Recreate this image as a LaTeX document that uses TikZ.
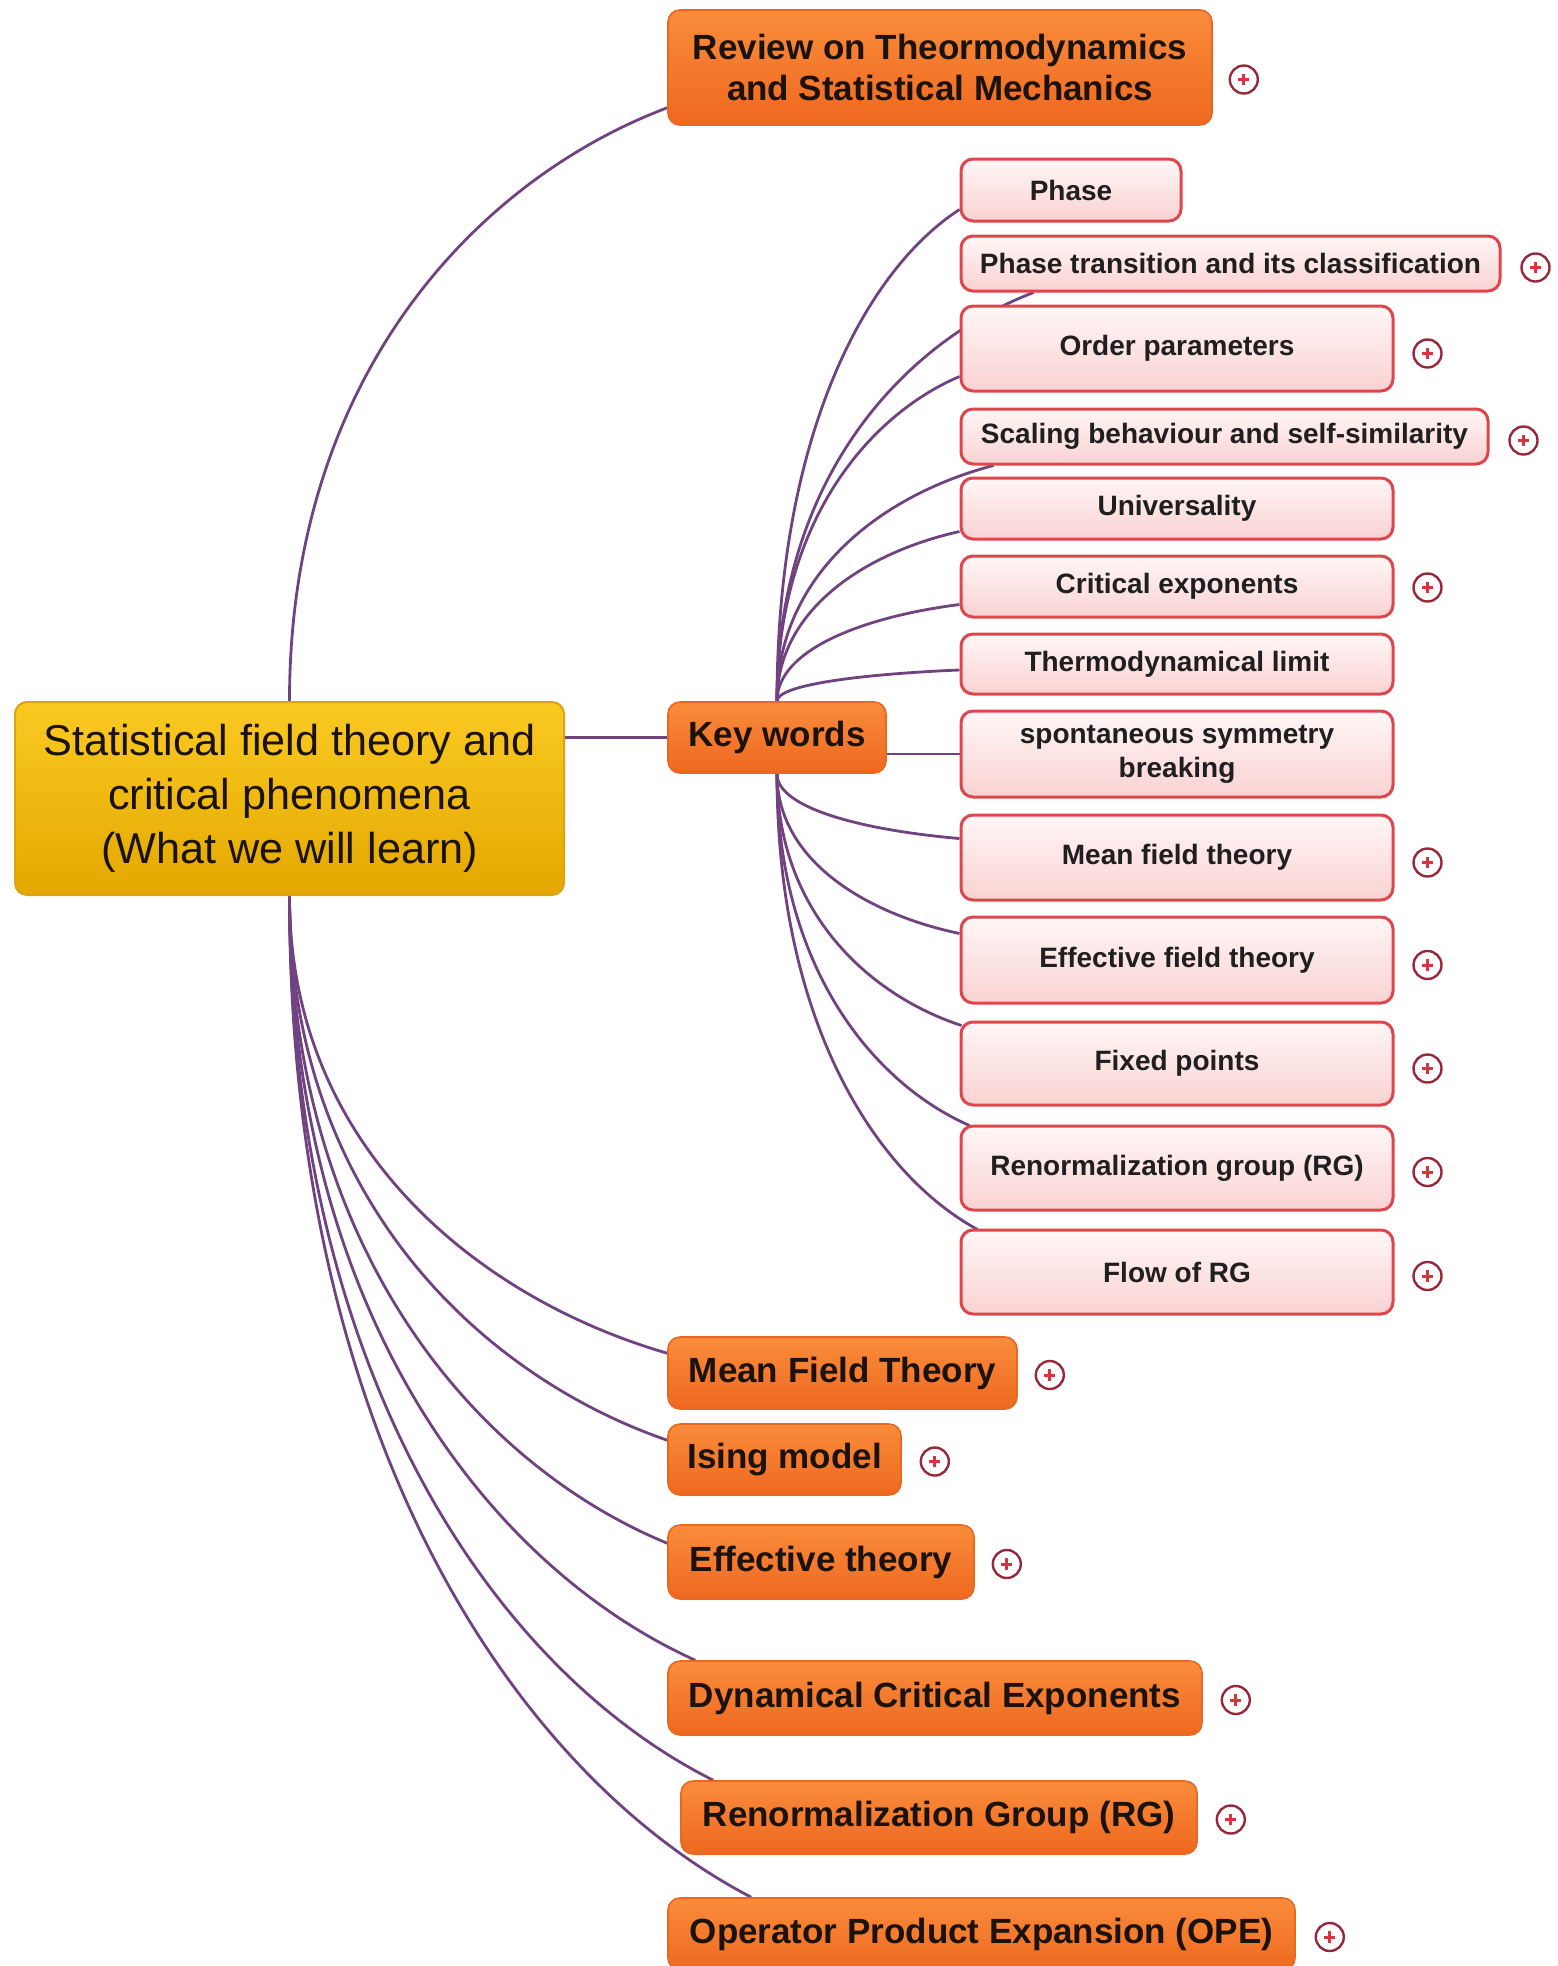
\documentclass[tikz,border=0pt]{standalone}
\usepackage{fontspec}
\setmainfont{Liberation Sans}
\usetikzlibrary{calc,backgrounds}

\definecolor{linkpurple}{RGB}{112,66,128}
\definecolor{orangetop}{RGB}{250,140,60}
\definecolor{orangebot}{RGB}{238,104,30}
\definecolor{orangeline}{RGB}{232,104,34}
\definecolor{goldtop}{RGB}{250,202,34}
\definecolor{goldbot}{RGB}{228,168,0}
\definecolor{goldline}{RGB}{218,164,18}
\definecolor{pinktop}{RGB}{255,246,246}
\definecolor{pinkbot}{RGB}{250,210,210}
\definecolor{pinkline}{RGB}{222,70,76}
\definecolor{plusring}{RGB}{150,40,58}
\definecolor{pluscross}{RGB}{220,50,62}
\definecolor{inkdark}{RGB}{26,18,12}

\tikzset{
  rootbox/.style={draw=goldline, line width=1pt, rounded corners=6pt,
    top color=goldtop, bottom color=goldbot, inner sep=0pt, align=center,
    text=inkdark, font=\fontsize{21.6pt}{27pt}\selectfont},
  topicbox/.style={draw=orangeline, line width=0.8pt, rounded corners=6pt,
    top color=orangetop, bottom color=orangebot, inner sep=0pt, align=center,
    text=inkdark, font=\bfseries\fontsize{17.5pt}{20.6pt}\selectfont},
  leafbox/.style={draw=pinkline, line width=1.5pt, rounded corners=6pt,
    top color=pinktop, bottom color=pinkbot, inner sep=0pt, align=center,
    text=black!88, font=\bfseries\fontsize{14pt}{17pt}\selectfont},
  plusicon/.style={circle, draw=plusring, line width=1.2pt, fill=white,
    minimum size=14pt, inner sep=0pt,
    path picture={
      \draw[pluscross, line width=1.5pt]
        ($(path picture bounding box.center)+(-2.8pt,0pt)$) -- ++(5.6pt,0pt)
        ($(path picture bounding box.center)+(0pt,-2.8pt)$) -- ++(0pt,5.6pt);}},
  link/.style={draw=linkpurple, line width=1.4pt},
  % curved branch: leaves its parent along the vertical, reaches the child at a shallow slope
  fanlink/.style={to path={.. controls
      ($(\tikztostart)!#1!(\tikztostart|-\tikztotarget)$) and
      ($(\tikztotarget)!0.5!(\tikztostart|-\tikztotarget)
        + 0.12*(\tikztostart) - 0.12*(\tikztostart|-\tikztotarget)$)
      .. (\tikztotarget)}},
  fanlink/.default=0.55
}

\begin{document}
\begin{tikzpicture}[x=0.5pt,y=-0.5pt]
\useasboundingbox (0,0) rectangle (1558,1966);

% central topic
\node[rootbox, minimum width=274.5pt, minimum height=96.5pt] (root) at (289.5,798.5)
  {Statistical field theory and\\critical phenomena\\(What we will learn)};

% main topics
\node[topicbox, minimum width=272pt, minimum height=57.5pt] (review) at (940,67.5)
  {Review on Theormodynamics\\and Statistical Mechanics};
\node[topicbox, minimum width=109pt, minimum height=35.5pt] (kw) at (777,737.5) {Key words};
\node[topicbox, minimum width=174.5pt, minimum height=36pt] (mft) at (842.5,1373) {Mean Field Theory};
\node[topicbox, minimum width=116.5pt, minimum height=35.5pt] (ising) at (784.5,1459.5) {Ising model};
\node[topicbox, minimum width=153pt, minimum height=37pt] (efft) at (821,1562) {Effective theory};
\node[topicbox, minimum width=267pt, minimum height=37pt] (dyn) at (935,1698) {Dynamical Critical Exponents};
\node[topicbox, minimum width=258pt, minimum height=36.5pt] (rg) at (939,1817.5) {Renormalization Group (RG)};
\node[topicbox, minimum width=313.5pt, minimum height=36pt] (ope) at (981.5,1934) {Operator Product Expansion (OPE)};

% key words
\node[leafbox, minimum width=110pt, minimum height=31pt] (phase) at (1071,190) {Phase};
\node[leafbox, minimum width=269.5pt, minimum height=27.5pt] (trans) at (1230.5,263.5) {Phase transition and its classification};
\node[leafbox, minimum width=216pt, minimum height=42.5pt] (order) at (1177,348.5) {Order parameters};
\node[leafbox, minimum width=263.5pt, minimum height=27.5pt] (scaling) at (1224.5,436.5) {Scaling behaviour and self-similarity};
\node[leafbox, minimum width=216pt, minimum height=30.5pt] (univ) at (1177,508.5) {Universality};
\node[leafbox, minimum width=216pt, minimum height=30.5pt] (crit) at (1177,586.5) {Critical exponents};
\node[leafbox, minimum width=216pt, minimum height=30pt] (thermo) at (1177,664) {Thermodynamical limit};
\node[leafbox, minimum width=216pt, minimum height=43pt] (spont) at (1177,754) {spontaneous symmetry\\breaking};
\node[leafbox, minimum width=216pt, minimum height=42.5pt] (mftk) at (1177,857.5) {Mean field theory};
\node[leafbox, minimum width=216pt, minimum height=43pt] (eft) at (1177,960) {Effective field theory};
\node[leafbox, minimum width=216pt, minimum height=41.5pt] (fixed) at (1177,1063.5) {Fixed points};
\node[leafbox, minimum width=216pt, minimum height=42pt] (rgk) at (1177,1168) {Renormalization group (RG)};
\node[leafbox, minimum width=216pt, minimum height=42pt] (flow) at (1177,1272) {Flow of RG};

% collapsed-branch markers
\node[plusicon] (p-review) at ($(review.east)+(31,12)$) {};
\node[plusicon] (p-trans) at ($(trans.east)+(34,4)$) {};
\node[plusicon] (p-order) at ($(order.east)+(33,5)$) {};
\node[plusicon] (p-scaling) at ($(scaling.east)+(34,4)$) {};
\node[plusicon] (p-crit) at ($(crit.east)+(33,1)$) {};
\node[plusicon] (p-mftk) at ($(mftk.east)+(33,5)$) {};
\node[plusicon] (p-eft) at ($(eft.east)+(33,5)$) {};
\node[plusicon] (p-fixed) at ($(fixed.east)+(33,5)$) {};
\node[plusicon] (p-rgk) at ($(rgk.east)+(33,4)$) {};
\node[plusicon] (p-flow) at ($(flow.east)+(33,4)$) {};
\node[plusicon] (p-mft) at ($(mft.east)+(32,2)$) {};
\node[plusicon] (p-ising) at ($(ising.east)+(33,2)$) {};
\node[plusicon] (p-efft) at ($(efft.east)+(32,2)$) {};
\node[plusicon] (p-dyn) at ($(dyn.east)+(33,2)$) {};
\node[plusicon] (p-rg) at ($(rg.east)+(33,2)$) {};
\node[plusicon] (p-ope) at ($(ope.east)+(34,3)$) {};

% attachment points of the connectors
\coordinate (e-review) at ($(review.south west)+(0,-18)$);
\coordinate (e-mft) at ($(mft.north west)+(0,17)$);
\coordinate (e-ising) at ($(ising.north west)+(0,17)$);
\coordinate (e-efft) at ($(efft.north west)+(0,19)$);
\coordinate (e-dyn) at ($(dyn.north west)+(28,0)$);
\coordinate (e-rg) at ($(rg.north west)+(33,0)$);
\coordinate (e-ope) at ($(ope.north west)+(84,0)$);

\coordinate (e-phase) at ($(phase.south west)+(0,-13)$);
\coordinate (e-trans) at ($(trans.south west)+(74,0)$);
\coordinate (e-order) at ($(order.south west)+(0,-16)$);
\coordinate (e-scaling) at ($(scaling.south west)+(34,0)$);
\coordinate (e-univ) at ($(univ.south west)+(0,-9)$);
\coordinate (e-crit) at ($(crit.south west)+(0,-14)$);
\coordinate (e-thermo) at ($(thermo.west)+(0,6)$);
\coordinate (e-mftk) at ($(mftk.north west)+(0,25)$);
\coordinate (e-eft) at ($(eft.north west)+(0,18)$);
\coordinate (e-fixed) at ($(fixed.north west)+(2,5)$);
\coordinate (e-rgk) at ($(rgk.north west)+(10,1)$);
\coordinate (e-flow) at ($(flow.north west)+(18,1)$);

\begin{scope}[on background layer]
  % central topic to main topics
  \draw[link] (root.north) to[fanlink] (e-review);
  \draw[link] (kw.west) -- (kw.west -| root.east);
  \foreach \t in {mft,ising,efft,dyn,rg,ope}
    \draw[link] (root.south) to[fanlink] (e-\t);
  % key words fan
  \foreach \t in {phase,trans,order,scaling,univ,crit,thermo}
    \draw[link] (kw.north) to[fanlink] (e-\t);
  \draw[link] (spont.west) -- (spont.west -| kw.east);
  \foreach \t in {mftk,eft,fixed,rgk,flow}
    \draw[link] (kw.south) to[fanlink] (e-\t);
\end{scope}
\end{tikzpicture}
\end{document}
